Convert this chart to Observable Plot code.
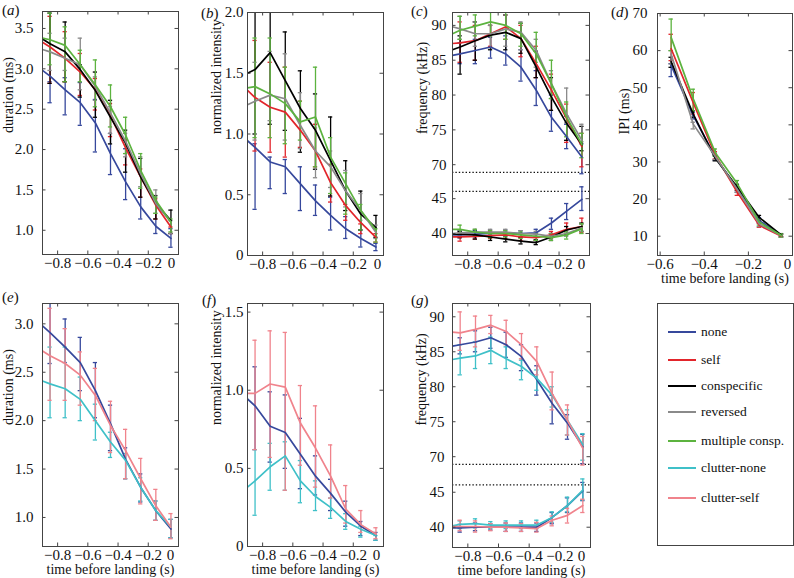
<!DOCTYPE html>
<html><head><meta charset="utf-8">
<script src="https://cdn.jsdelivr.net/npm/d3@7"></script>
<script src="https://cdn.jsdelivr.net/npm/@observablehq/plot@0.6"></script>
<style>
html,body{margin:0;padding:0;background:#fff;overflow:hidden;font-family:'Liberation Serif',serif;}
#fig{position:relative;width:794px;height:578px;font-family:'Liberation Serif',serif;color:#111;}
#fig svg, #fig svg text{font-family:'Liberation Serif',serif !important;}
.letter{position:absolute;font-size:15px;line-height:18px;white-space:nowrap;}
#legend{position:absolute;border:1px solid #444;box-sizing:border-box;font-size:13.5px;}
.lrow{position:absolute;left:0;height:18px;line-height:18px;white-space:nowrap;}
.lline{position:absolute;left:10px;width:28px;top:8px;height:2px;}
.ltext{position:absolute;left:43px;top:0;}
</style></head><body><div id="fig"></div>
<script>
// ---------- shared axes ----------
const tBins = [-0.85,-0.75,-0.65,-0.55,-0.45,-0.35,-0.25,-0.15,-0.05];
const tLine = [-0.9,-0.85,-0.75,-0.65,-0.55,-0.45,-0.35,-0.25,-0.15,-0.05];
const tIPI = [-0.55,-0.45,-0.35,-0.25,-0.15,-0.05];
const xTicks = [-0.8,-0.6,-0.4,-0.2,0];
const xTicksIPI = [-0.6,-0.4,-0.2,0];
const conditions = ["none","self","conspecific","reversed","multiple consp.","clutter-none","clutter-self"];
const colors = ["#36489c","#e2252b","#000000","#8a8a8a","#5cb33f","#3fc0c8","#f0838c"];

// ---------- (a) duration ----------
const aNone  = {line:[2.98,2.91,2.74,2.58,2.33,1.95,1.60,1.29,1.05,0.90], lo:[2.58,2.43,2.30,1.97,1.69,1.38,1.14,0.96,0.79], hi:[2.84,2.89,2.83,2.62,2.20,2.01,1.70,1.36,1.02]};
const aSelf  = {line:[3.33,3.27,3.13,2.96,2.74,2.42,2.02,1.66,1.31,1.04], lo:[2.82,2.84,2.67,2.49,2.16,1.81,1.41,1.14,0.96], hi:[3.65,3.46,3.19,2.88,2.57,2.12,1.76,1.39,1.04]};
const aConsp = {line:[3.37,3.31,3.21,2.99,2.73,2.40,2.08,1.66,1.33,1.12], lo:[2.82,2.84,2.65,2.40,2.07,1.72,1.41,1.14,0.96], hi:[3.69,3.58,3.05,2.96,2.61,2.24,1.89,1.43,1.25]};
const aRev   = {line:[3.24,3.21,3.13,3.05,2.78,2.45,2.10,1.70,1.33,1.10], lo:[2.98,2.98,2.74,2.61,2.20,1.91,1.54,1.21,0.96], hi:[3.44,3.38,3.38,2.90,2.53,2.20,1.91,1.50,1.12]};
const aMult  = {line:[3.38,3.36,3.29,3.05,2.80,2.53,2.18,1.74,1.37,1.10], lo:[3.05,2.84,2.84,2.53,2.28,1.95,1.52,1.21,0.98], hi:[3.69,3.52,3.23,3.11,2.80,2.40,1.95,1.41,1.14]};

// ---------- (b) normalized intensity ----------
const bNone  = {line:[0.945,0.89,0.77,0.73,0.59,0.45,0.33,0.22,0.14,0.07], lo:[0.38,0.55,0.51,0.37,0.33,0.21,0.14,0.07,0.04], hi:[0.92,0.81,0.79,0.73,0.58,0.48,0.32,0.21,0.10]};
const bSelf  = {line:[1.36,1.30,1.22,1.18,1.03,0.86,0.60,0.41,0.27,0.15], lo:[0.86,0.85,0.81,0.89,0.73,0.44,0.29,0.18,0.11], hi:[1.77,1.59,1.55,1.27,1.08,0.75,0.42,0.26,0.18]};
const bConsp = {line:[1.50,1.53,1.67,1.44,1.21,1.03,0.78,0.53,0.34,0.23], lo:[1.00,1.08,1.03,0.85,0.71,0.49,0.37,0.21,0.15], hi:[2.10,2.20,1.84,1.52,1.33,1.14,0.78,0.53,0.33]};
const bRev   = {line:[1.24,1.27,1.32,1.29,1.07,0.86,0.73,0.53,0.37,0.19], lo:[0.95,1.11,0.95,0.88,0.64,0.56,0.40,0.29,0.14], hi:[1.59,1.68,1.66,1.34,1.05,0.86,0.70,0.51,0.25]};
const bMult  = {line:[1.38,1.39,1.33,1.25,1.10,1.14,0.81,0.59,0.37,0.21], lo:[0.97,0.97,0.92,0.95,0.73,0.51,0.34,0.21,0.11], hi:[1.79,1.79,1.55,1.27,1.55,0.97,0.68,0.42,0.22]};

// ---------- (c) frequency (upper = start, lower = end) ----------
const cNoneU  = {line:[85.7,85.9,86.4,86.9,85.9,84.0,80.7,76.8,74.0,71.1], lo:[84.5,84.5,85.3,84.3,82.0,78.5,74.8,72.3,68.7], hi:[87.5,88.0,88.3,88.5,86.5,83.5,80.0,75.8,73.0]};
const cSelfU  = {line:[87.4,87.5,87.8,88.8,89.8,88.1,84.5,80.7,76.6,72.6], lo:[84.7,85.0,87.0,88.0,85.5,82.5,77.8,73.2,69.7], hi:[90.5,90.0,90.0,91.5,90.0,87.0,83.0,78.7,74.5]};
const cConspU = {line:[86.5,86.9,87.8,88.6,89.0,88.1,84.0,79.7,75.9,72.9], lo:[83.0,85.0,86.5,86.5,86.0,82.5,77.8,73.5,72.0], hi:[88.5,90.5,90.0,91.5,90.3,86.3,82.5,77.0,75.5]};
const cRevU   = {line:[89.8,89.5,88.8,88.8,89.5,89.0,86.4,81.6,77.3,73.5], lo:[88.0,87.0,86.8,87.0,86.5,84.0,79.5,76.0,73.3], hi:[91.3,90.5,90.0,91.5,90.5,88.0,83.5,81.0,75.8]};
const cMultU  = {line:[88.8,89.3,89.9,90.5,90.0,88.8,85.9,81.6,76.8,72.9], lo:[88.0,88.5,88.5,88.0,87.0,84.7,79.5,74.0,71.0], hi:[91.3,91.5,92.5,92.5,90.3,89.0,85.0,79.0,74.5]};
const cNoneL  = {line:[39.8,39.8,39.9,40.0,40.1,40.0,40.1,41.5,43.2,44.9], lo:[39.4,39.5,39.5,39.6,39.5,39.6,40.6,42.0,43.3], hi:[40.4,40.4,40.5,40.5,40.4,40.6,42.2,44.3,46.7]};
const cSelfL  = {line:[39.5,39.5,39.6,39.7,39.8,39.5,39.4,39.8,40.6,41.0], lo:[38.9,39.2,39.3,39.3,39.0,39.0,39.3,39.9,40.1], hi:[40.1,40.2,40.3,40.2,40.0,40.0,40.3,41.5,42.2]};
const cConspL = {line:[39.9,39.9,39.8,39.5,39.2,38.9,38.7,39.5,40.5,41.0], lo:[39.4,39.2,39.0,38.8,38.5,38.4,39.0,39.8,40.3], hi:[40.3,40.3,40.0,39.7,39.4,39.1,40.0,41.0,41.5]};
const cRevL   = {line:[40.0,40.1,40.2,40.2,40.2,40.0,39.9,39.6,40.0,40.8], lo:[39.7,39.8,39.8,39.8,39.6,39.5,39.2,39.6,40.3], hi:[40.5,40.6,40.6,40.6,40.4,40.3,40.0,40.4,41.3]};
const cMultL  = {line:[40.6,40.6,40.2,40.0,40.0,39.8,39.6,39.4,39.8,40.7], lo:[40.0,39.7,39.4,39.5,39.3,39.0,39.0,39.2,40.0], hi:[41.2,40.6,40.4,40.4,40.2,40.0,39.9,40.2,41.4]};

// ---------- (d) IPI ----------
const dNone  = {line:[56.0,42.5,31.3,22.8,14.2,10.2], lo:[53.0,41.6,30.5,21.8,13.5,9.8], hi:[56.5,43.4,32.3,23.8,15.0,10.6]};
const dSelf  = {line:[60.5,46.0,31.8,21.8,12.9,10.0], lo:[57.3,42.9,30.8,21.0,12.4,9.7], hi:[64.4,48.7,32.8,22.8,13.6,10.4]};
const dConsp = {line:[57.0,42.9,31.0,23.2,15.0,10.3], lo:[55.5,42.0,30.3,22.3,14.2,9.9], hi:[58.2,43.8,31.8,24.0,15.6,10.7]};
const dRev   = {line:[59.0,40.2,31.5,22.6,13.3,10.1], lo:[56.4,38.9,30.7,21.8,12.6,9.7], hi:[60.0,40.7,32.4,23.4,14.0,10.5]};
const dMult  = {line:[63.5,47.0,32.5,24.1,13.8,10.2], lo:[60.0,43.8,31.5,23.2,13.0,9.8], hi:[68.5,49.6,33.5,25.0,14.7,10.6]};

// ---------- (e) duration, clutter ----------
const eNone  = {line:[2.98,2.91,2.76,2.60,2.31,1.97,1.60,1.31,1.07,0.88], lo:[2.59,2.60,2.31,2.03,1.69,1.40,1.16,0.97,0.79], hi:[3.22,3.05,2.86,2.60,2.16,1.72,1.45,1.17,0.98]};
const eCNone = {line:[2.41,2.38,2.33,2.22,2.00,1.78,1.59,1.31,1.07,0.90], lo:[2.03,2.03,2.00,1.80,1.62,1.40,1.17,0.97,0.79], hi:[2.76,2.76,2.45,2.17,1.88,1.66,1.41,1.17,0.98]};
const eCSelf = {line:[2.72,2.67,2.59,2.47,2.26,1.95,1.69,1.40,1.12,0.90], lo:[2.21,2.21,2.16,2.00,1.67,1.40,1.14,0.97,0.78], hi:[3.16,2.95,2.71,2.54,2.20,1.91,1.61,1.29,1.04]};

// ---------- (f) normalized intensity, clutter ----------
const fNone  = {line:[0.944,0.90,0.77,0.73,0.59,0.45,0.34,0.22,0.13,0.07], lo:[0.62,0.54,0.50,0.37,0.33,0.23,0.13,0.07,0.04], hi:[1.15,0.99,0.97,0.82,0.58,0.43,0.29,0.16,0.09]};
const fCNone = {line:[0.38,0.42,0.51,0.58,0.42,0.32,0.25,0.16,0.11,0.07], lo:[0.20,0.36,0.36,0.28,0.23,0.18,0.11,0.06,0.04], hi:[0.62,0.66,0.67,0.55,0.42,0.31,0.21,0.13,0.07]};
const fCSelf = {line:[0.98,0.98,1.04,1.02,0.79,0.63,0.45,0.24,0.14,0.08], lo:[0.62,0.57,0.36,0.52,0.38,0.31,0.15,0.09,0.05], hi:[1.32,1.38,1.37,1.03,0.90,0.65,0.39,0.23,0.12]};

// ---------- (g) frequency, clutter ----------
const gNoneU  = {line:[85.8,86.0,86.4,87.0,86.0,84.3,81.0,77.6,74.8,71.4], lo:[84.7,85.0,85.5,84.2,82.3,78.8,74.7,72.5,69.0], hi:[87.0,88.0,88.5,87.8,86.0,83.0,78.8,76.0,73.2]};
const gCNoneU = {line:[83.9,84.1,84.4,85.2,84.0,82.9,81.2,78.8,75.2,71.7], lo:[81.7,82.6,83.3,82.6,81.0,79.5,77.1,73.1,69.5], hi:[86.0,86.4,87.1,85.7,83.8,82.4,80.0,76.7,73.3]};
const gCSelfU = {line:[87.8,87.7,88.2,88.8,87.9,86.0,83.6,79.0,75.2,71.2], lo:[85.2,85.7,87.6,86.0,84.0,81.7,76.7,73.1,68.8], hi:[90.7,90.1,90.2,89.5,87.6,85.7,82.1,77.4,72.9]};
const gNoneL  = {line:[39.9,39.9,40.0,40.0,40.0,40.0,40.0,41.4,43.1,45.2], lo:[39.3,39.5,39.6,39.4,39.4,39.4,40.5,42.1,43.8], hi:[40.4,40.6,40.5,40.6,40.6,40.6,42.1,44.2,46.4]};
const gCNoneL = {line:[40.2,40.4,40.5,40.3,40.3,40.3,40.3,41.4,43.1,45.3], lo:[39.8,39.9,39.8,39.8,39.8,39.8,40.7,42.2,43.9], hi:[40.9,41.2,40.8,40.9,40.9,41.0,42.2,44.3,46.9]};
const gCSelfL = {line:[40.1,40.1,40.1,40.0,40.0,39.9,39.8,41.0,41.7,43.1], lo:[39.5,39.3,39.5,39.4,39.4,39.3,40.2,40.6,42.1], hi:[41.0,40.9,40.5,40.6,40.5,40.7,41.6,42.7,44.0]};

// frequency axis break (dotted lines) and tick values
const freqBreakLow = 46.05, freqBreakHigh = 68.9;
const freqTicks = [40, 45, 70, 75, 80, 85, 90];

// ---------- helpers ----------
const fig = document.getElementById("fig");
const fmtX = d => d === 0 ? "0" : d3.format(".1f")(d);
const fmt1 = d => d.toFixed(1);
const fmt1z = d => d === 0 ? "0" : d.toFixed(1);
const fmt0 = d => String(d);
const FONT = "'Liberation Serif', serif";

// upper = true marks the start-frequency block of a broken frequency axis
function S(ci, s, upper = false, lx = tLine, bx = tBins) {
  return {color: colors[ci], upper,
    line: lx.map((x, i) => ({x, y: s.line[i]})),
    bars: bx.map((x, i) => ({x, lo: s.lo[i], hi: s.hi[i]}))};
}

function drawPanel(p) {
  const mL = 52, mR = 8, mT = 6, mB = 44;
  const W = p.w + mL + mR, H = p.h + mT + mB;
  let shift = 0, ydomain = p.ydomain, yticks = p.yticks, yfmt = p.yfmt, rules = [];
  if (p.broken) {
    // the upper block is moved down so both blocks share one px per kHz, separated by a small gap
    const [d0, d1] = p.broken;
    const k = (p.h - p.gap) / ((d1 - freqBreakHigh) + (freqBreakLow - d0));
    shift = (freqBreakHigh - freqBreakLow) - p.gap / k;
    ydomain = [d0, d1 - shift];
    yticks = freqTicks.map(v => v > 60 ? v - shift : v);
    yfmt = v => String(Math.round(v > freqBreakLow + 0.5 ? v + shift : v));
    rules = [freqBreakLow, freqBreakHigh - shift];
  }
  const cap = p.cap ?? 0.014;
  const marks = [];
  if (rules.length) {
    marks.push(Plot.ruleY(rules, {stroke: "#111", strokeWidth: 1.3, strokeDasharray: "1.4,2"}));
  }
  for (const s of p.series) {
    const off = s.upper ? shift : 0;
    const st = {stroke: s.color, strokeWidth: 1.3, clip: true};
    marks.push(Plot.ruleX(s.bars, {x: "x", y1: d => d.lo - off, y2: d => d.hi - off, ...st}));
    marks.push(Plot.ruleY(s.bars, {y: d => d.lo - off, x1: d => d.x - cap, x2: d => d.x + cap, ...st}));
    marks.push(Plot.ruleY(s.bars, {y: d => d.hi - off, x1: d => d.x - cap, x2: d => d.x + cap, ...st}));
  }
  for (const s of p.series) {
    const off = s.upper ? shift : 0;
    marks.push(Plot.line(s.line, {x: "x", y: d => d.y - off, stroke: s.color, strokeWidth: 1.7, clip: true}));
  }
  const tl = 3.5, tc = "#444";
  const xNonZero = p.xticks.filter(t => t !== 0);
  marks.push(
    Plot.tickX(p.xticks, {insetTop: p.h - tl, stroke: tc}),
    Plot.tickX(p.xticks, {insetBottom: p.h - tl, stroke: tc}),
    Plot.tickY(yticks, {insetRight: p.w - tl, stroke: tc}),
    Plot.tickY(yticks, {insetLeft: p.w - tl, stroke: tc}),
    Plot.frame({stroke: "#444", strokeWidth: 1}),
    Plot.axisX(xNonZero, {tickSize: 0, tickPadding: 3, tickFormat: fmtX, label: null}),
    Plot.axisX([0], {tickSize: 0, tickPadding: 3, tickFormat: fmtX, label: null, dx: p.zeroDx ?? -7}),
    Plot.axisY(yticks, {tickSize: 0, tickPadding: p.yPad, tickFormat: yfmt, label: null})
  );
  if (p.xlabel) {
    marks.push(Plot.text(["time before landing (s)"], {frameAnchor: "bottom", lineAnchor: "bottom", dy: 27.5, fontSize: 14, fill: "#111"}));
  }
  marks.push(Plot.text([p.ylabel], {frameAnchor: "left", rotate: -90, dx: -(p.left - p.ylabelX), fontSize: 14, fill: "#111"}));
  const svg = Plot.plot({
    width: W, height: H, marginLeft: mL, marginRight: mR, marginTop: mT, marginBottom: mB,
    x: {domain: p.xdomain}, y: {domain: ydomain},
    style: {fontFamily: FONT, fontSize: "15px", background: "transparent", overflow: "visible", color: "#111"},
    marks
  });
  svg.setAttribute("font-family", FONT);
  svg.style.position = "absolute";
  svg.style.left = (p.left - mL) + "px";
  svg.style.top = (p.top - mT) + "px";
  fig.appendChild(svg);
  const lab = document.createElement("div");
  lab.className = "letter";
  lab.innerHTML = "(<i>" + p.id + "</i>)";
  lab.style.left = p.letter[0] + "px";
  lab.style.top = p.letter[1] + "px";
  fig.appendChild(lab);
}

const panels = [
  {id: "a", left: 42, top: 11, w: 136, h: 243, xdomain: [-0.9, 0], xticks: xTicks, ydomain: [0.7, 3.71],
   yticks: [1, 1.5, 2, 2.5, 3, 3.5], yfmt: fmt1, yPad: 9, ylabel: "duration (ms)", ylabelX: 8, letter: [2, 1], zeroDx: -7,
   series: [S(0, aNone), S(1, aSelf), S(2, aConsp), S(3, aRev), S(4, aMult)]},
  {id: "b", left: 247, top: 12, w: 136, h: 243, xdomain: [-0.9, 0], xticks: xTicks, ydomain: [0, 2],
   yticks: [0, 0.5, 1, 1.5, 2], yfmt: fmt1z, yPad: 4, ylabel: "normalized intensity", ylabelX: 216, letter: [201, 4], zeroDx: -6,
   series: [S(0, bNone), S(1, bSelf), S(2, bConsp), S(3, bRev), S(4, bMult)]},
  {id: "c", left: 452, top: 12, w: 137, h: 243, xdomain: [-0.9, 0], xticks: xTicks, broken: [36.84, 91.85], gap: 19,
   yPad: 6, ylabel: "frequency (kHz)", ylabelX: 422, letter: [411, 2], zeroDx: -8,
   series: [S(0, cNoneU, true), S(1, cSelfU, true), S(2, cConspU, true), S(3, cRevU, true), S(4, cMultU, true),
            S(0, cNoneL), S(1, cSelfL), S(2, cConspL), S(3, cRevL), S(4, cMultL)]},
  {id: "d", left: 657, top: 13, w: 135, h: 242, xdomain: [-0.612, 0], xticks: xTicksIPI, ydomain: [4.8, 70],
   yticks: [10, 20, 30, 40, 50, 60, 70], yfmt: fmt0, yPad: 10, ylabel: "IPI (ms)", ylabelX: 624, letter: [611, 3], xlabel: true, cap: 0.01, zeroDx: -5,
   series: [S(0, dNone, false, tIPI, tIPI), S(1, dSelf, false, tIPI, tIPI), S(2, dConsp, false, tIPI, tIPI), S(3, dRev, false, tIPI, tIPI), S(4, dMult, false, tIPI, tIPI)]},
  {id: "e", left: 42, top: 303, w: 136, h: 243, xdomain: [-0.9, 0], xticks: xTicks, ydomain: [0.7, 3.21],
   yticks: [1, 1.5, 2, 2.5, 3], yfmt: fmt1, yPad: 9, ylabel: "duration (ms)", ylabelX: 8, letter: [2, 288], xlabel: true, zeroDx: -8,
   series: [S(0, eNone), S(5, eCNone), S(6, eCSelf)]},
  {id: "f", left: 247, top: 303, w: 136, h: 243, xdomain: [-0.9, 0], xticks: xTicks, ydomain: [0, 1.555],
   yticks: [0, 0.5, 1, 1.5], yfmt: fmt1z, yPad: 4, ylabel: "normalized intensity", ylabelX: 216, letter: [202, 291], xlabel: true, zeroDx: -7,
   series: [S(0, fNone), S(5, fCNone), S(6, fCSelf)]},
  {id: "g", left: 452, top: 303, w: 138, h: 244, xdomain: [-0.9, 0], xticks: xTicks, broken: [37.1, 91.9], gap: 20.5,
   yPad: 8, ylabel: "frequency (kHz)", ylabelX: 421, letter: [411, 291], xlabel: true, zeroDx: -9,
   series: [S(0, gNoneU, true), S(5, gCNoneU, true), S(6, gCSelfU, true), S(0, gNoneL), S(5, gCNoneL), S(6, gCSelfL)]}
];
panels.forEach(drawPanel);

// ---------- legend ----------
const legend = document.createElement("div");
legend.id = "legend";
Object.assign(legend.style, {left: "657px", top: "303px", width: "137px", height: "243px"});
const rowY = [28, 56, 82, 108, 137, 164, 194];
conditions.forEach((c, i) => {
  const row = document.createElement("div");
  row.className = "lrow";
  row.style.top = (rowY[i] - 9) + "px";
  const ln = document.createElement("div");
  ln.className = "lline";
  ln.style.background = colors[i];
  if (i >= 5) { ln.style.height = "1.5px"; }
  const tx = document.createElement("span");
  tx.className = "ltext";
  tx.textContent = c;
  row.appendChild(ln); row.appendChild(tx);
  legend.appendChild(row);
});
fig.appendChild(legend);
</script>
</body></html>
